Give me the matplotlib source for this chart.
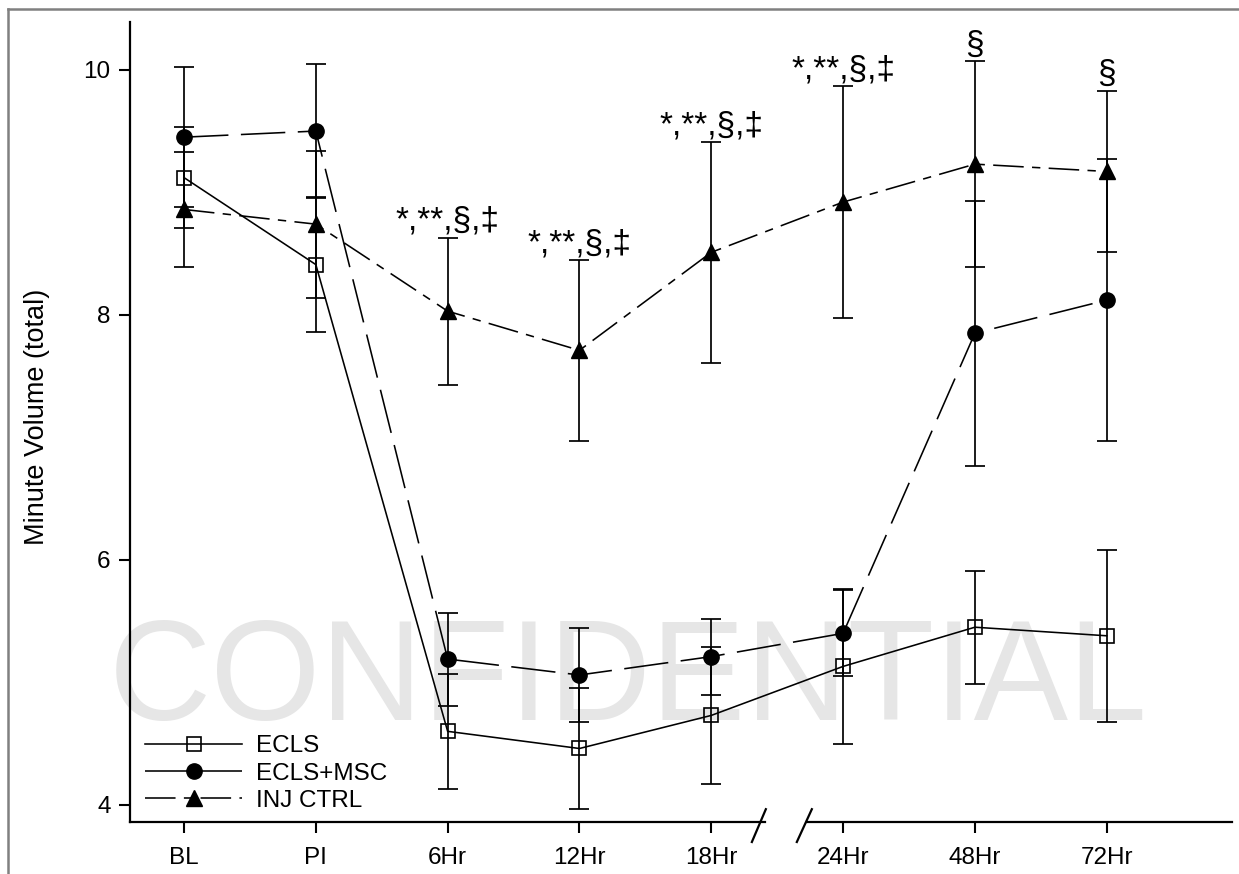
import numpy as np
import matplotlib
matplotlib.use("Agg")
import matplotlib.pyplot as plt
import matplotlib.transforms as mtransforms
from matplotlib.lines import Line2D

# time points and group means / SDs
times = ["BL", "PI", "6Hr", "12Hr", "18Hr", "24Hr", "48Hr", "72Hr"]
ecls_mean = [9.12, 8.41, 4.60, 4.46, 4.73, 5.13, 5.45, 5.38]
ecls_sd = [0.41, 0.55, 0.47, 0.49, 0.56, 0.63, 0.46, 0.70]
msc_mean = [9.45, 9.50, 5.19, 5.06, 5.21, 5.40, 7.85, 8.12]
msc_sd = [0.57, 0.55, 0.38, 0.38, 0.31, 0.35, 1.08, 1.15]
inj_mean = [8.86, 8.74, 8.03, 7.71, 8.51, 8.92, 9.23, 9.17]
inj_sd = [0.47, 0.60, 0.60, 0.74, 0.90, 0.95, 0.84, 0.66]
sig_labels = ["", "", "*,**,§,‡", "*,**,§,‡", "*,**,§,‡", "*,**,§,‡", "§", "§"]

plt.rcParams["font.family"] = ["Liberation Sans", "DejaVu Sans"]
plt.rcParams["lines.scale_dashes"] = False

x = np.arange(len(times))

fig = plt.figure(figsize=(12.39, 8.74), dpi=100)
ax = fig.add_axes([0.1049, 0.0595, 0.8894, 0.9153])

# error bars first, then the lines+markers on top
err_kw = dict(fmt="none", ecolor="black", elinewidth=1.25, capsize=7, capthick=1.25)
ax.errorbar(x, ecls_mean, yerr=ecls_sd, **err_kw)
ax.errorbar(x, msc_mean, yerr=msc_sd, **err_kw)
ax.errorbar(x, inj_mean, yerr=inj_sd, **err_kw)

l1, = ax.plot(x, ecls_mean, color="black", lw=1.15, ls="-", marker="s", ms=9.5,
              mfc="none", mec="black", mew=1.2, zorder=3)
l2, = ax.plot(x, msc_mean, color="black", lw=1.15, ls=(0, (32, 9)), marker="o", ms=11,
              mfc="black", mec="black", zorder=3)
l3, = ax.plot(x, inj_mean, color="black", lw=1.15, ls=(0, (22, 6, 6, 6)), marker="^", ms=11,
              mfc="black", mec="black", zorder=3)

# significance marks above the INJ CTRL bars
for xi, m, s, lab in zip(x, inj_mean, inj_sd, sig_labels):
    if lab:
        ax.annotate(lab, xy=(xi, m + s), xytext=(0, 5.5), textcoords="offset points",
                    ha="center", va="baseline", fontsize=24)

ax.set_xlim(-0.41, 7.95)
ax.set_ylim(3.86, 10.39)
ax.set_xticks(x)
ax.set_xticklabels(times)
ax.set_yticks([4, 6, 8, 10])
ax.tick_params(axis="both", direction="out", length=8, width=1.5, labelsize=17.5)
ax.tick_params(axis="y", pad=6)
ax.tick_params(axis="x", pad=10)

ax.set_ylabel("Minute Volume (total)", fontsize=19.5)
ax.yaxis.set_label_coords(-0.0726, 0.506)

for side in ["top", "right", "bottom"]:
    ax.spines[side].set_visible(False)
ax.spines["left"].set_linewidth(1.6)

# broken x axis between 18Hr and 24Hr
trans = mtransforms.blended_transform_factory(ax.transData, ax.transAxes)
ax.plot([-0.41, 4.406], [0, 0], transform=trans, color="black", lw=1.6, clip_on=False)
ax.plot([4.725, 7.95], [0, 0], transform=trans, color="black", lw=1.6, clip_on=False)
ax.plot([4.308, 4.414], [-0.025, 0.016], transform=trans, color="black", lw=1.6, clip_on=False)
ax.plot([4.649, 4.763], [-0.025, 0.016], transform=trans, color="black", lw=1.6, clip_on=False)

ax.legend([l1, l2, l3], ["ECLS", "ECLS+MSC", "INJ CTRL"], loc="lower left",
          bbox_to_anchor=(0.0136, 0.0125), frameon=False, fontsize=17.5,
          handlelength=4.0, handletextpad=0.55, labelspacing=0.22,
          borderpad=0, borderaxespad=0, numpoints=1)

# watermark behind the data
ax.text(0.507, 1 - 720 / 874, "CONFIDENTIAL", transform=fig.transFigure, fontsize=102,
        color="#e6e6e6", ha="center", va="baseline", zorder=0)

# grey frame, cropped at right and bottom
fig.add_artist(Line2D([8 / 1239, 1], [1 - 9 / 874, 1 - 9 / 874], transform=fig.transFigure,
                      color="#808080", lw=1.8))
fig.add_artist(Line2D([8 / 1239, 8 / 1239], [0, 1 - 9 / 874], transform=fig.transFigure,
                      color="#808080", lw=1.8))

fig.savefig("out.png", dpi=100)
